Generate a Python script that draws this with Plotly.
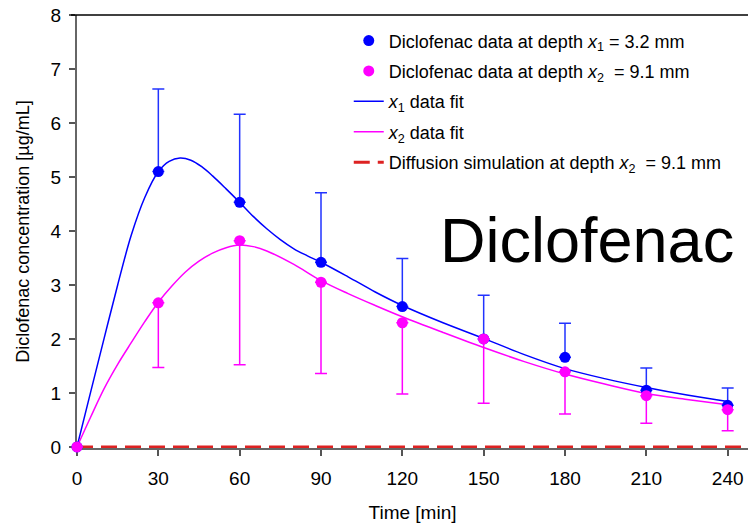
import plotly.graph_objects as go

# ---- data ----
time = [0, 30, 60, 90, 120, 150, 180, 210, 240]
x1_mean = [0, 5.10, 4.53, 3.42, 2.60, 2.00, 1.66, 1.05, 0.77]
x1_err_plus = [0, 1.53, 1.63, 1.29, 0.89, 0.81, 0.63, 0.41, 0.32]
x2_mean = [0, 2.67, 3.82, 3.05, 2.30, 2.00, 1.39, 0.95, 0.69]
x2_err_minus = [0, 1.20, 2.30, 1.69, 1.32, 1.19, 0.78, 0.51, 0.39]

x1_fit_t = [0, 5, 10, 15, 20, 25, 30, 34, 38, 42, 46, 50, 55, 60, 65, 70, 75,
            80, 85, 90, 100, 110, 120, 135, 150, 165, 180, 195, 210, 225, 240]
x1_fit_c = [0, 1.01, 2.01, 3.00, 3.92, 4.62, 5.10, 5.29, 5.35, 5.31, 5.19,
            5.02, 4.78, 4.53, 4.27, 4.04, 3.84, 3.67, 3.54, 3.42, 3.15, 2.87,
            2.62, 2.30, 2.01, 1.71, 1.45, 1.26, 1.10, 0.96, 0.84]

x2_fit_t = [0, 5, 10, 15, 20, 25, 30, 35, 40, 45, 50, 55, 60, 65, 70, 80, 90,
            100, 110, 120, 135, 150, 165, 180, 195, 210, 225, 240]
x2_fit_c = [0, 0.55, 1.08, 1.53, 1.93, 2.32, 2.68, 2.98, 3.24, 3.44, 3.59,
            3.69, 3.74, 3.71, 3.63, 3.38, 3.08, 2.84, 2.62, 2.41, 2.12, 1.84,
            1.58, 1.35, 1.16, 0.99, 0.88, 0.78]

sim_t = [0, 250]
sim_c = [0, 0]

x_ticks = [0, 30, 60, 90, 120, 150, 180, 210, 240]
y_ticks = [0, 1, 2, 3, 4, 5, 6, 7, 8]

BLUE = "#0000ff"
MAG = "#ff00ff"
RED = "#dd2222"
FONT = "Liberation Sans, Arial, sans-serif"

fig = go.Figure()

# lines first (drawn underneath), markers on top
fig.add_trace(go.Scatter(
    x=x1_fit_t, y=x1_fit_c, mode="lines",
    name="<i>x</i><sub>1</sub> data fit", legendrank=3, legendgroup="g3",
    line=dict(color=BLUE, width=1.5, shape="spline", smoothing=1.0),
))
fig.add_trace(go.Scatter(
    x=x2_fit_t, y=x2_fit_c, mode="lines",
    name="<i>x</i><sub>2</sub> data fit", legendrank=4, legendgroup="g4",
    line=dict(color=MAG, width=1.5, shape="spline", smoothing=1.0),
))
fig.add_trace(go.Scatter(
    x=sim_t, y=sim_c, mode="lines",
    name="Diffusion simulation at depth <i>x</i><sub>2</sub>  = 9.1 mm",
    legendrank=5, legendgroup="g5",
    line=dict(color=RED, width=3, dash="16px,8px"),
))
fig.add_trace(go.Scatter(
    x=time, y=x1_mean, mode="markers",
    name="Diclofenac data at depth <i>x</i><sub>1</sub> = 3.2 mm",
    legendrank=1, legendgroup="g1",
    marker=dict(color=BLUE, size=11),
    error_y=dict(type="data", symmetric=False, array=x1_err_plus,
                 arrayminus=[0] * len(time), color="#2233ff", thickness=1.5, width=6),
    cliponaxis=False,
))
fig.add_trace(go.Scatter(
    x=time, y=x2_mean, mode="markers",
    name="Diclofenac data at depth <i>x</i><sub>2</sub>  = 9.1 mm",
    legendrank=2, legendgroup="g2",
    marker=dict(color=MAG, size=11),
    error_y=dict(type="data", symmetric=False, array=[0] * len(time),
                 arrayminus=x2_err_minus, color=MAG, thickness=1.5, width=6),
    cliponaxis=False,
))

fig.update_layout(
    width=748, height=526,
    margin=dict(l=77, r=0, t=15, b=78),
    paper_bgcolor="white", plot_bgcolor="white",
    font=dict(family=FONT, color="black", size=18),
    showlegend=True,
    legend=dict(
        x=0.405, y=0.983, xanchor="left", yanchor="top",
        bgcolor="rgba(0,0,0,0)", font=dict(size=18),
        traceorder="grouped", tracegroupgap=4,
    ),
    xaxis=dict(
        range=[0, 247.5], tickvals=x_ticks, ticktext=[str(v) for v in x_ticks],
        ticks="outside", ticklen=6, tickwidth=1.5, tickcolor="#555555",
        showline=True, linecolor="#666666", linewidth=2,
        showgrid=False, zeroline=False, layer="below traces",
        tickfont=dict(size=19), ticklabelstandoff=6,
        title=dict(text="Time [min]", font=dict(size=19), standoff=18),
    ),
    yaxis=dict(
        range=[-0.02, 8], tickvals=y_ticks, ticktext=[str(v) for v in y_ticks],
        ticks="outside", ticklen=6, tickwidth=1.5, tickcolor="#555555",
        showline=True, linecolor="#666666", linewidth=2,
        showgrid=False, zeroline=False, layer="below traces",
        tickfont=dict(size=19), ticklabelstandoff=4,
        title=dict(text="Diclofenac concentration [µg/mL]", font=dict(size=18),
                   standoff=16),
    ),
    shapes=[dict(type="line", xref="paper", yref="paper",
                 x0=-0.009, x1=1, y0=1, y1=1,
                 line=dict(color="black", width=1.5))],
    annotations=[dict(text="Diclofenac", xref="paper", yref="paper",
                      x=0.760, y=0.480, xanchor="center", yanchor="middle",
                      showarrow=False, font=dict(size=63, color="black"))],
)

fig.write_html("out.html")
